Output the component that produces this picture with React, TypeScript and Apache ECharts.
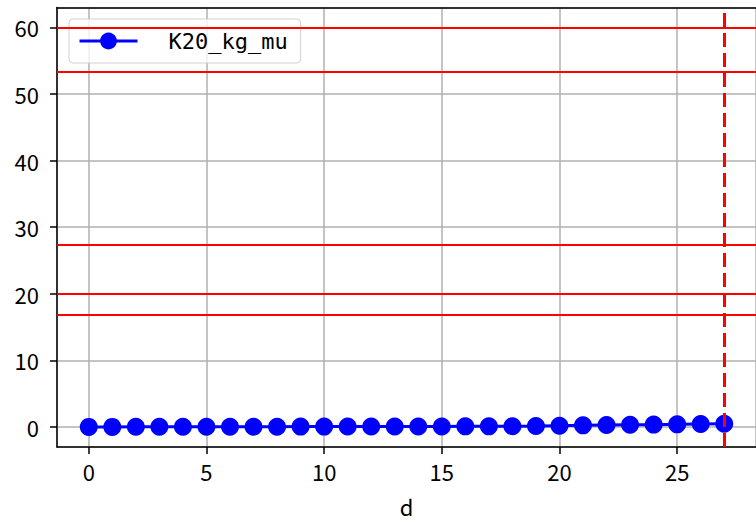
import React, { useEffect, useRef } from "react";
import * as echarts from "echarts";

const days = [0, 1, 2, 3, 4, 5, 6, 7, 8, 9, 10, 11, 12, 13, 14, 15, 16, 17, 18, 19, 20, 21, 22, 23, 24, 25, 26, 27];
const k20Values = [0.02, 0.02, 0.03, 0.03, 0.04, 0.04, 0.05, 0.05, 0.05, 0.06, 0.06, 0.07, 0.07, 0.08, 0.08, 0.09, 0.1, 0.1, 0.12, 0.15, 0.2, 0.25, 0.3, 0.33, 0.36, 0.4, 0.45, 0.5];
const hLines = [60, 53.3, 27.3, 20, 16.8];
const vLine = 27;
const seriesName = "K20_kg_mu";

const tickFont = '"Noto Sans CJK JP", sans-serif';

export default function App() {
  const ref = useRef<HTMLDivElement>(null);
  useEffect(() => {
    document.body.style.margin = "0";
    const chart = echarts.init(ref.current!, null, { renderer: "svg" });
    chart.setOption({
      animation: false,
      backgroundColor: "#ffffff",
      grid: { left: 57, top: 7.5, width: 702, height: 444.75, containLabel: false },
      legend: {
        data: [seriesName],
        left: 69,
        top: 19,
        orient: "vertical",
        padding: [11, 13, 11, 9],
        itemWidth: 58,
        itemHeight: 21,
        backgroundColor: "rgba(255,255,255,0.8)",
        borderColor: "#d0d0d0",
        borderWidth: 1,
        borderRadius: 4,
        lineStyle: { width: 3, color: "#0000ff" },
        textStyle: {
          fontFamily: '"DejaVu Sans Mono", monospace',
          fontSize: 22,
          color: "#000",
          padding: [0, 0, 0, 26],
        },
      },
      xAxis: [
        {
          type: "value",
          min: -1.35,
          max: 28.35,
          splitNumber: 6,
          name: "d",
          nameLocation: "middle",
          nameGap: 48,
          nameTextStyle: { fontFamily: tickFont, fontSize: 22, color: "#000" },
          axisLine: { show: true, onZero: false, lineStyle: { color: "#000", width: 1.5 } },
          axisTick: { show: true, length: 7, lineStyle: { color: "#000", width: 1.5 } },
          axisLabel: {
            showMinLabel: false,
            showMaxLabel: false,
            margin: 13,
            fontFamily: tickFont,
            fontSize: 22,
            color: "#000",
          },
          splitLine: { show: true, lineStyle: { color: "#b0b0b0", width: 1.5 } },
        },
        {
          type: "value",
          position: "top",
          min: -1.35,
          max: 28.35,
          axisLine: { show: true, onZero: false, lineStyle: { color: "#000", width: 1.5 } },
          axisTick: { show: false },
          axisLabel: { show: false },
          splitLine: { show: false },
        },
      ],
      yAxis: {
        type: "value",
        min: -3,
        max: 63,
        splitNumber: 7,
        axisLine: { show: true, onZero: false, lineStyle: { color: "#000", width: 1.5 } },
        axisTick: { show: true, length: 7, lineStyle: { color: "#000", width: 1.5 } },
        axisLabel: {
          showMinLabel: false,
          showMaxLabel: false,
          margin: 18,
          fontFamily: tickFont,
          fontSize: 22,
          color: "#000",
        },
        splitLine: { show: true, lineStyle: { color: "#b0b0b0", width: 1.5 } },
      },
      series: [
        {
          name: seriesName,
          type: "line",
          data: days.map((d, i) => [d, k20Values[i]]),
          symbol: "circle",
          symbolSize: 18,
          lineStyle: { color: "#0000ff", width: 3 },
          itemStyle: { color: "#0000ff" },
          z: 3,
        },
        {
          name: "refs",
          type: "line",
          data: [],
          z: 5,
          silent: true,
          markLine: {
            silent: true,
            symbol: ["none", "none"],
            label: { show: false },
            data: [
              ...hLines.map((v) => ({ yAxis: v, lineStyle: { color: "#ff0000", width: 2.2, type: "solid" } })),
              { xAxis: vLine, lineStyle: { color: "#ff0000", width: 3, type: [14, 6] } },
            ],
          },
        },
      ],
    });
    return () => chart.dispose();
  }, []);
  return <div ref={ref} style={{ position: "fixed", left: 0, top: 0, width: 756, height: 522 }} />;
}
